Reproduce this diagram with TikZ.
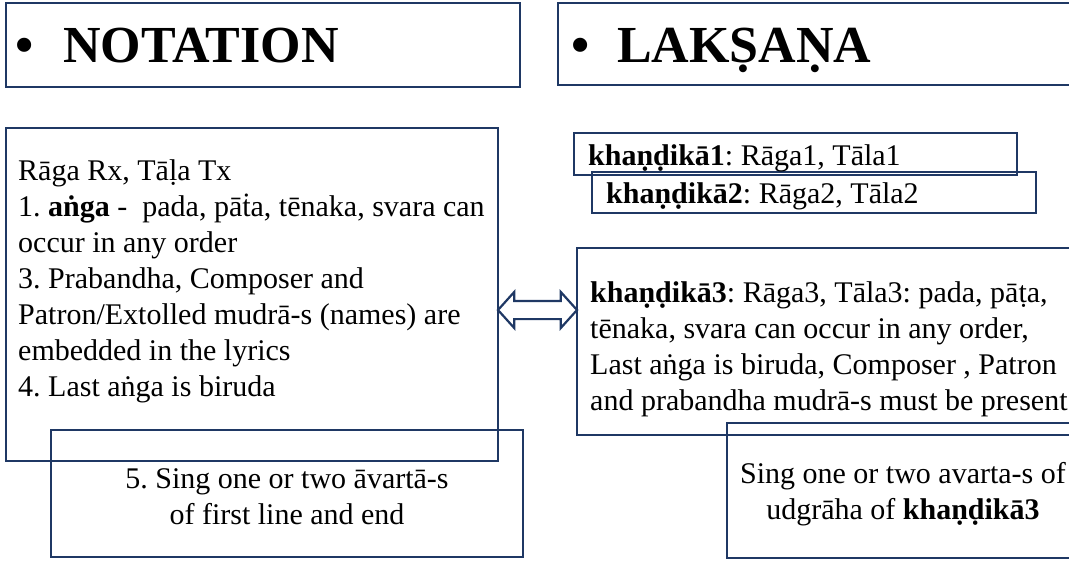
\documentclass[tikz,border=0pt]{standalone}
\usepackage{fontspec}
\setmainfont{Liberation Serif}
\usepackage{tikz}
\usetikzlibrary{calc,positioning,shapes.arrows}
\definecolor{slidenavy}{HTML}{1F3864}
\frenchspacing

\tikzset{
  panel/.style={draw=slidenavy, line width=2.2pt, inner sep=0pt, outer sep=0pt, anchor=north west},
  headtext/.style={font=\fontsize{52}{60}\selectfont\bfseries, inner sep=0pt, anchor=base west},
  bodytext/.style={font=\fontsize{30}{36}\selectfont, inner sep=0pt, align=left},
  midtext/.style={font=\fontsize{30}{36}\selectfont, inner sep=0pt, align=center},
}

\begin{document}
\begin{tikzpicture}[x=1pt, y=-1pt]
  \useasboundingbox (0,0) rectangle (1069,562);
  \clip (0,0) rectangle (1069,562);

  \node[panel, minimum width=514pt, minimum height=84pt] (notehead) at (6,3) {};
  \node[panel, minimum width=527pt, minimum height=82pt] (lakhead) at (558,3) {};
  \node[headtext] (notetitle) at (15,62) {\makebox[48pt][l]{•}NOTATION};
  \node[headtext] (laktitle) at (571,62) {\makebox[46pt][l]{•}LAKṢAṆA};

  \node[panel, minimum width=492pt, minimum height=333pt] (notebox) at (6,128) {};
  \node[panel, minimum width=472pt, minimum height=127pt] (singbox) at (51,430) {};
  \node[bodytext, anchor=north west] (notetext) at (18,155) {%
    \strut Rāga Rx, Tāḷa Tx\\
    1. \textbf{aṅga} -~ pada, pāṫa, tēnaka, svara can\\
    occur in any order\\
    3. Prabandha, Composer and\\
    Patron/Extolled mudrā-s (names) are\\
    embedded in the lyrics\\
    4. Last aṅga is biruda};
  \node[midtext] (singtext) at ([yshift=-3.5pt]singbox.center) {%
    5. Sing one or two āvartā-s\\
    of first line and end};

  \node[panel, minimum width=443pt, minimum height=42pt] (kone) at (574,133) {};
  \node[panel, minimum width=444pt, minimum height=41pt] (ktwo) at (592,172) {};
  \node[bodytext, anchor=base west] (konetext) at (588,165) {\textbf{khaṇḍikā1}: Rāga1, Tāla1};
  \node[bodytext, anchor=base west] (ktwotext) at (606,203) {\textbf{khaṇḍikā2}: Rāga2, Tāla2};

  \node[panel, minimum width=508pt, minimum height=187pt] (kthree) at (577,248) {};
  \node[panel, minimum width=352pt, minimum height=135pt] (udbox) at (727,423) {};
  \node[bodytext, anchor=north west] (kthreetext) at (590,277) {%
    \strut\textbf{khaṇḍikā3}: Rāga3, Tāla3: pada, pāṭa,\\
    tēnaka, svara can occur in any order,\\
    Last aṅga is biruda, Composer , Patron\\
    and prabandha mudrā-s must be present};
  \node[midtext] (udtext) at ([yshift=-4pt]udbox.center) {%
    Sing one or two avarta-s of\\
    udgrāha of \textbf{khaṇḍikā3}};

  \node[double arrow, draw=slidenavy, fill=white, line width=2.2pt,
    minimum height=79pt, inner xsep=0pt, inner ysep=8pt,
    double arrow head extend=9pt, double arrow tip angle=96]
    (link) at ($(notebox.east |- 0,310)!0.5!(kthree.west |- 0,310)$) {};
\end{tikzpicture}
\end{document}
